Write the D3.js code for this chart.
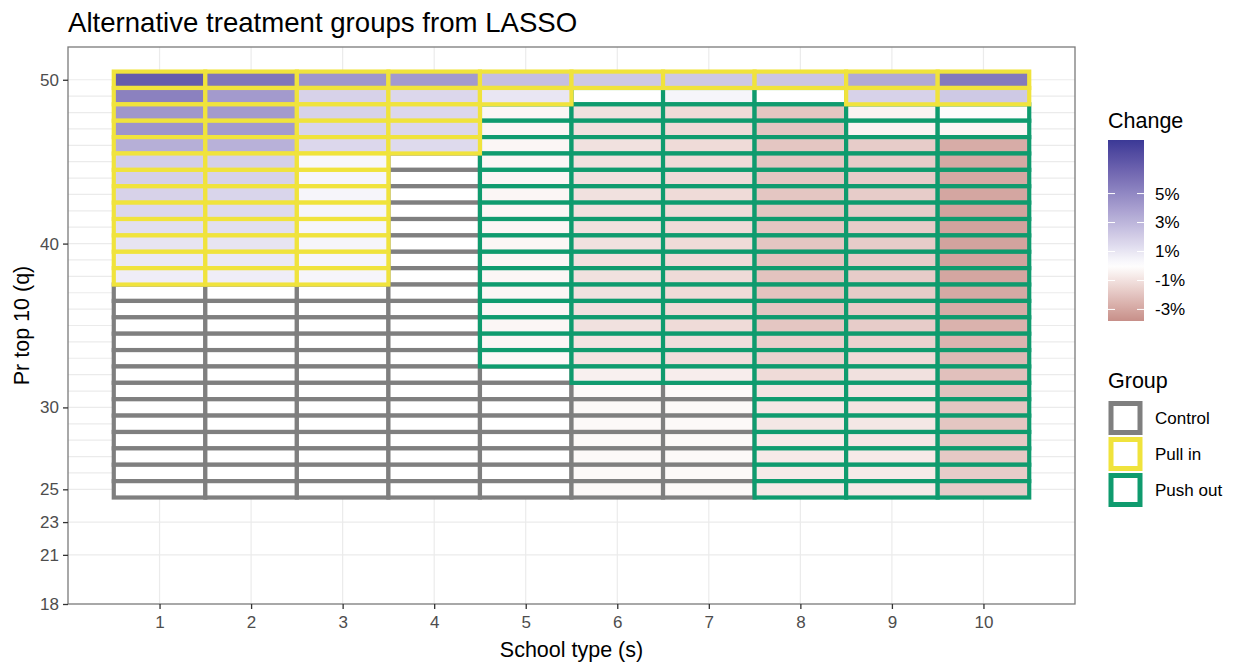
<!DOCTYPE html>
<html>
<head>
<meta charset="utf-8">
<script src="https://cdn.jsdelivr.net/npm/d3@7"></script>
<style>
  html, body { margin: 0; padding: 0; background: #ffffff; }
  svg { display: block; font-family: "Liberation Sans", Arial, Helvetica, sans-serif; }
</style>
</head>
<body>
<svg id="chart" width="1242" height="667"></svg>
<script>
// ---------------- data ----------------
const schoolTypes = [1, 2, 3, 4, 5, 6, 7, 8, 9, 10];
const qValues = d3.range(50, 24, -1); // 50 .. 25 (top to bottom)
const yTickLabels = [18, 21, 23, 25, 30, 40, 50];
const extraGridQ = [21, 23];
const changeLegendTicks = [5, 3, 1, -1, -3];
const changeRange = [-3.8, 8.7];
const groupNames = ["Control", "Pull in", "Push out"];

// group codes per school type, listed from q = 50 down to q = 25
// C = Control, Y = Pull in, G = Push out
const groupCodes = [
  "YYYYYYYYYYYYYCCCCCCCCCCCCC",
  "YYYYYYYYYYYYYCCCCCCCCCCCCC",
  "YYYYYYYYYYYYYCCCCCCCCCCCCC",
  "YYYYYCCCCCCCCCCCCCCCCCCCCC",
  "YYGGGGGGGGGGGGGGGGCCCCCCCC",
  "YGGGGGGGGGGGGGGGGGGCCCCCCC",
  "YGGGGGGGGGGGGGGGGGGCCCCCCC",
  "YGGGGGGGGGGGGGGGGGGGGGGGGG",
  "YYGGGGGGGGGGGGGGGGGGGGGGGG",
  "YYGGGGGGGGGGGGGGGGGGGGGGGG"
];

// change (%) per school type, listed from q = 50 down to q = 25
const change1  = [7.0, 5.3, 4.3, 4.4, 3.3, 2.0, 1.9, 1.8, 1.6, 1.3, 1.1, 0.9, 0.7, 0, 0, 0, 0, 0, 0, 0, 0, 0, 0, 0, 0, 0];
const change2  = [5.8, 4.2, 4.2, 4.2, 3.2, 1.9, 1.8, 1.7, 1.5, 1.3, 1.1, 0.9, 0.7, 0, 0, 0, 0, 0, 0, 0, 0, 0, 0, 0, 0, 0];
const change3  = [4.3, 1.8, 1.8, 1.7, 1.6, 0.3, 0.4, 0.4, 0.4, 0.4, 0.4, 0.4, 0.4, 0, 0, 0, 0, 0, 0, 0, 0, 0, 0, 0, 0, 0];
const change4  = [4.2, 1.6, 1.6, 1.6, 1.5, 0, 0, 0, 0, 0, 0, 0, 0, 0, 0, 0, 0, 0, 0, 0, 0, 0, 0, 0, 0, 0];
const change5  = [2.6, 1.0, -0.3, -0.3, -0.3, -0.3, -0.3, -0.3, -0.3, -0.3, -0.3, -0.3, -0.3, -0.3, -0.3, -0.3, -0.3, -0.2, 0, 0, 0, 0, 0, 0, 0, 0];
const change6  = [2.2, 0.0, -1.0, -1.0, -1.0, -1.0, -1.0, -1.0, -1.0, -1.0, -1.0, -1.0, -1.0, -1.0, -1.0, -1.0, -0.9, -0.9, -0.5, -0.2, -0.2, -0.2, -0.2, -0.2, -0.2, -0.2];
const change7  = [2.2, 0.4, -1.2, -1.2, -1.2, -1.2, -1.2, -1.2, -1.2, -1.2, -1.2, -1.2, -1.2, -1.2, -1.2, -1.2, -1.1, -1.1, -0.6, -0.2, -0.2, -0.2, -0.2, -0.2, -0.2, -0.2];
const change8  = [2.3, 0.0, -1.9, -1.9, -1.9, -1.9, -1.9, -1.9, -1.9, -1.9, -1.9, -2.0, -2.0, -2.0, -1.9, -1.9, -1.6, -1.5, -1.2, -0.9, -0.8, -0.8, -0.7, -0.7, -0.7, -0.7];
const change9  = [3.5, 1.8, -0.4, -0.4, -1.7, -1.7, -1.7, -1.7, -1.7, -1.7, -1.7, -1.7, -1.7, -1.7, -1.7, -1.7, -1.5, -1.2, -1.0, -0.9, -0.9, -0.8, -0.8, -0.7, -0.7, -0.7];
const change10 = [5.6, 2.2, -0.1, -0.3, -2.8, -2.9, -2.9, -3.0, -3.1, -3.1, -3.1, -3.1, -3.0, -2.9, -2.8, -2.6, -2.5, -2.3, -2.1, -2.0, -1.9, -1.9, -1.8, -1.8, -1.7, -1.7];
const changeBySchool = [change1, change2, change3, change4, change5, change6, change7, change8, change9, change10];

// ---------------- build tile table ----------------
const codeToGroup = { C: "Control", Y: "Pull in", G: "Push out" };
const tiles = [];
schoolTypes.forEach((s, i) => {
  qValues.forEach((q, j) => {
    tiles.push({ s, q, group: codeToGroup[groupCodes[i][j]], change: changeBySchool[i][j] });
  });
});

// ---------------- scales ----------------
const svg = d3.select("#chart");
const panel = { left: 68, right: 1075, top: 47, bottom: 604 };
const x = d3.scaleLinear().domain([0, 11]).range([panel.left, panel.right]);
const y = d3.scaleLinear().domain([18, 52]).range([panel.bottom, panel.top]);

const lowCol = "#c78f89", midCol = "#ffffff", highCol = "#3b3996";
const color = d3.scaleLinear()
  .domain([changeRange[0], 0, changeRange[1]])
  .range([lowCol, midCol, highCol])
  .interpolate(d3.interpolateLab)
  .clamp(true);

const groupColor = d3.scaleOrdinal()
  .domain(groupNames)
  .range(["#7f7f7f", "#f0e33c", "#0f9b6e"]);

// ---------------- panel ----------------
svg.append("rect")
  .attr("x", panel.left).attr("y", panel.top)
  .attr("width", panel.right - panel.left).attr("height", panel.bottom - panel.top)
  .attr("fill", "#ffffff");

const grid = svg.append("g");
const gridQ = extraGridQ.concat(qValues);
grid.selectAll("line.h").data(gridQ).enter().append("line")
  .attr("x1", panel.left).attr("x2", panel.right)
  .attr("y1", d => y(d)).attr("y2", d => y(d))
  .attr("stroke", "#ebebeb").attr("stroke-width", 1.2);
grid.selectAll("line.v").data(schoolTypes).enter().append("line")
  .attr("y1", panel.top).attr("y2", panel.bottom)
  .attr("x1", d => x(d)).attr("x2", d => x(d))
  .attr("stroke", "#ebebeb").attr("stroke-width", 1.2);

// tiles: Control first, then Push out, then Pull in on top
const order = { "Control": 0, "Push out": 1, "Pull in": 2 };
const sorted = tiles.slice().sort((a, b) => order[a.group] - order[b.group]);
svg.append("g").selectAll("rect").data(sorted).enter().append("rect")
  .attr("x", d => x(d.s - 0.5))
  .attr("y", d => y(d.q + 0.5))
  .attr("width", d => x(d.s + 0.5) - x(d.s - 0.5))
  .attr("height", d => y(d.q - 0.5) - y(d.q + 0.5))
  .attr("fill", d => color(d.change))
  .attr("stroke", d => groupColor(d.group))
  .attr("stroke-width", 4.2);

// panel border
svg.append("rect")
  .attr("x", panel.left).attr("y", panel.top)
  .attr("width", panel.right - panel.left).attr("height", panel.bottom - panel.top)
  .attr("fill", "none").attr("stroke", "#7a7a7a").attr("stroke-width", 1.3);

// ---------------- axes ----------------
const yAxis = svg.append("g")
  .attr("transform", `translate(${panel.left},0)`)
  .call(d3.axisLeft(y).tickValues(yTickLabels).tickSize(5).tickPadding(4).tickFormat(d3.format("d")));
yAxis.select(".domain").remove();
const xAxis = svg.append("g")
  .attr("transform", `translate(0,${panel.bottom})`)
  .call(d3.axisBottom(x).tickValues(schoolTypes).tickSize(5).tickPadding(7).tickFormat(d3.format("d")));
xAxis.select(".domain").remove();
[xAxis, yAxis].forEach(a => {
  a.selectAll(".tick line").attr("stroke", "#333333").attr("stroke-width", 1.3);
  a.selectAll(".tick text").attr("fill", "#4d4d4d")
    .style("font-size", "17px").style("font-family", "'Liberation Sans', Arial, sans-serif");
});

// titles
svg.append("text").attr("x", 68).attr("y", 32)
  .attr("fill", "#000").style("font-size", "27.6px")
  .text("Alternative treatment groups from LASSO");
svg.append("text")
  .attr("x", (panel.left + panel.right) / 2).attr("y", 657)
  .attr("text-anchor", "middle").attr("fill", "#000").style("font-size", "21.5px")
  .text("School type (s)");
svg.append("text")
  .attr("transform", `translate(29,${(panel.top + panel.bottom) / 2}) rotate(-90)`)
  .attr("text-anchor", "middle").attr("fill", "#000").style("font-size", "21.5px")
  .text("Pr top 10 (q)");

// ---------------- legend: Change ----------------
const lg = svg.append("g");
lg.append("text").attr("x", 1108).attr("y", 128)
  .attr("fill", "#000").style("font-size", "21.5px").text("Change");
const barX = 1108, barW = 36;
const ly = d3.scaleLinear().domain(changeRange).range([321, 140]);
const defs = svg.append("defs");
const grad = defs.append("linearGradient").attr("id", "changeGrad")
  .attr("x1", 0).attr("y1", 1).attr("x2", 0).attr("y2", 0);
const nStops = 40;
d3.range(nStops + 1).forEach(i => {
  const v = changeRange[0] + (changeRange[1] - changeRange[0]) * i / nStops;
  grad.append("stop").attr("offset", (i / nStops * 100) + "%").attr("stop-color", color(v));
});
lg.append("rect").attr("x", barX).attr("y", ly(changeRange[1]))
  .attr("width", barW).attr("height", ly(changeRange[0]) - ly(changeRange[1]))
  .attr("fill", "url(#changeGrad)");
changeLegendTicks.forEach(v => {
  lg.append("line").attr("x1", barX).attr("x2", barX + 7)
    .attr("y1", ly(v)).attr("y2", ly(v)).attr("stroke", "#ffffff").attr("stroke-width", 1);
  lg.append("line").attr("x1", barX + barW - 7).attr("x2", barX + barW)
    .attr("y1", ly(v)).attr("y2", ly(v)).attr("stroke", "#ffffff").attr("stroke-width", 1);
  lg.append("text").attr("x", 1155).attr("y", ly(v)).attr("dy", "0.35em")
    .attr("fill", "#000").style("font-size", "17px").text(v + "%");
});

// ---------------- legend: Group ----------------
const gg = svg.append("g");
gg.append("text").attr("x", 1108).attr("y", 388)
  .attr("fill", "#000").style("font-size", "21.5px").text("Group");
groupNames.forEach((g, i) => {
  const cy = 418 + i * 36;
  gg.append("rect").attr("x", 1111).attr("y", cy - 14.5).attr("width", 29).attr("height", 29)
    .attr("fill", "#ffffff").attr("stroke", groupColor(g)).attr("stroke-width", 5);
  gg.append("text").attr("x", 1155).attr("y", cy).attr("dy", "0.35em")
    .attr("fill", "#000").style("font-size", "17px").text(g);
});
</script>
</body>
</html>
